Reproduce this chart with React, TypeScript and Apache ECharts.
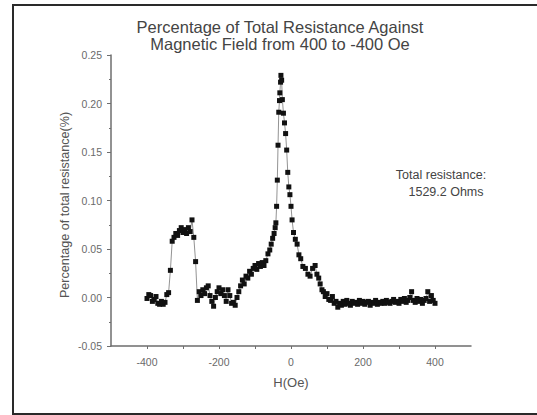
import React, { useEffect, useRef } from 'react';
import * as echarts from 'echarts';

// Magnetic field sweep (Oe) and percentage of total resistance (%)
const fieldOe: number[] = [
  -400, -395, -390, -385, -380, -375, -370, -365, -360, -355, -350, -345, -340,
  -335, -330, -325, -320, -315, -310, -305, -300, -295, -290, -285, -280, -275, -270, -265,
  -260, -255, -250, -245, -240, -235, -230, -225, -220, -215, -210, -205, -200, -195, -190, -185, -180, -175, -170, -165, -160, -155, -150,
  -145, -140, -135, -130, -125, -120, -115, -110, -105, -100, -95, -90, -85, -80, -75,
  -70, -64, -59, -55, -51, -47, -44, -42, -40, -38, -36, -34, -32, -31, -29, -28,
  -26, -24, -21, -18, -15, -12, -9, -6, -3, 0, 3, 7, 12, 17, 22, 27, 33, 40, 47, 53, 60, 67, 72, 77, 81, 86, 90, 95, 100, 105,
  110, 115, 120, 125, 130, 135, 140, 145, 150, 155,
  160, 165, 170, 175, 180, 185, 190, 195, 200, 205,
  210, 215, 220, 225, 230, 235, 240, 245, 250, 255,
  260, 265, 270, 275, 280, 285, 290, 295, 300, 305,
  310, 315, 320, 325, 330, 335, 340, 345, 350, 355,
  360, 365, 370, 375, 380, 385, 390, 395, 400,
];

const resistancePct: number[] = [
  -0.001, 0.003, 0.002, -0.004, -0.002, 0.001, -0.006, -0.007, -0.004, -0.007, -0.005, 0.003, 0.005,
  0.028, 0.058, 0.062, 0.066, 0.064, 0.069, 0.072, 0.067, 0.070, 0.066, 0.072, 0.068, 0.080, 0.062, 0.037,
  -0.003, 0.006, 0.002, 0.008, 0.004, 0.010, 0.012, 0.002, -0.004, -0.009, 0.000, 0.006, 0.010, 0.004, 0.008, 0.002, -0.004, 0.008, 0.002, -0.006, -0.005, -0.008, 0.000,
  0.006, 0.012, 0.018, 0.014, 0.022, 0.020, 0.027, 0.024, 0.030, 0.033, 0.029, 0.035, 0.032, 0.036, 0.033,
  0.038, 0.045, 0.049, 0.055, 0.061, 0.066, 0.072, 0.077, 0.094, 0.121, 0.157, 0.191, 0.203, 0.211, 0.222, 0.229,
  0.224, 0.204, 0.190, 0.180, 0.169, 0.152, 0.129, 0.114, 0.106, 0.094, 0.080, 0.067, 0.060, 0.055, 0.044, 0.040, 0.032, 0.030, 0.024, 0.022, 0.030, 0.033, 0.024, 0.020, 0.014, 0.008, 0.006, 0.001, 0.004, -0.002,
  -0.003, 0.001, -0.006, -0.004, -0.010, -0.006, -0.008, -0.004, -0.007, -0.003,
  -0.006, -0.008, -0.004, -0.006, -0.005, -0.007, -0.003, -0.006, -0.004, -0.007,
  -0.005, -0.004, -0.008, -0.005, -0.006, -0.003, -0.007, -0.005, -0.006, -0.004,
  -0.006, -0.003, -0.005, -0.006, -0.004, -0.002, -0.005, -0.004, -0.006, -0.002,
  -0.004, -0.001, -0.005, -0.003, 0.000, 0.006, -0.003, -0.005, -0.001, -0.004,
  -0.002, -0.006, -0.003, -0.001, 0.006, -0.004, 0.002, -0.003, -0.006,
];

const xLabelStep = 200; // labels shown at -400, -200, 0, 200, 400
const titleLines = ['Percentage of Total Resistance Against', 'Magnetic Field from 400 to -400 Oe'];
const noteLines = ['Total resistance:', '1529.2 Ohms'];
const xAxisTitle = 'H(Oe)';
const yAxisTitle = 'Percentage of total resistance(%)';

const FONT = 'Arial, "Liberation Sans", sans-serif';
const AXIS_GRAY = '#6e6e6e';
const LABEL_GRAY = '#6a6a6a';

export default function App() {
  const ref = useRef<HTMLDivElement>(null);

  useEffect(() => {
    if (!ref.current) return;
    const chart = echarts.init(ref.current, null, { renderer: 'svg' });
    const n = Math.min(fieldOe.length, resistancePct.length);
    const data: number[][] = [];
    for (let i = 0; i < n; i++) data.push([fieldOe[i], resistancePct[i]]);

    const centered = (text: string, size: number) => ({
      text,
      fill: '#444',
      font: `${size}px ${FONT}`,
      align: 'center',
      verticalAlign: 'middle',
      textAlign: 'center',
      textVerticalAlign: 'middle',
    });

    chart.setOption({
      animation: false,
      backgroundColor: '#ffffff',
      textStyle: { fontFamily: FONT },
      grid: { left: 111, right: 66, top: 55, bottom: 69 },
      xAxis: {
        type: 'value',
        min: -500,
        max: 500,
        interval: 100,
        axisLine: { show: true, onZero: false, lineStyle: { color: AXIS_GRAY, width: 1.5 } },
        axisTick: { show: true, length: 3, lineStyle: { color: AXIS_GRAY, width: 1 } },
        axisLabel: {
          show: true,
          margin: 10,
          fontSize: 10.5,
          color: LABEL_GRAY,
          fontFamily: FONT,
          showMinLabel: false,
          showMaxLabel: false,
          formatter: (v: number) => (Math.abs(v) <= 400 && v % xLabelStep === 0 ? String(v) : ''),
        },
        splitLine: { show: false },
      },
      yAxis: {
        type: 'value',
        min: -0.05,
        max: 0.25,
        interval: 0.05,
        axisLine: { show: true, onZero: false, lineStyle: { color: AXIS_GRAY, width: 1.5 } },
        axisTick: { show: true, length: 4, lineStyle: { color: AXIS_GRAY, width: 1 } },
        minorTick: { show: true, splitNumber: 2, length: 2, lineStyle: { color: AXIS_GRAY, width: 1 } },
        axisLabel: {
          margin: 9,
          fontSize: 10.5,
          color: LABEL_GRAY,
          fontFamily: FONT,
          formatter: (v: number) => v.toFixed(2),
        },
        splitLine: { show: false },
      },
      series: [
        {
          type: 'line',
          data,
          showSymbol: true,
          symbol: 'rect',
          symbolSize: 5,
          itemStyle: { color: '#111' },
          lineStyle: { color: '#777', width: 0.8 },
          emphasis: { disabled: true },
        },
      ],
      graphic: [
        {
          type: 'rect',
          shape: { x: 13, y: 5, width: 530, height: 409 },
          style: { fill: 'none', stroke: '#2a2a2a', lineWidth: 2 },
          silent: true,
        },
        ...titleLines.map((t, i) => ({
          type: 'text',
          x: 280,
          y: 27 + i * 17,
          style: centered(t, 16.5),
        })),
        ...noteLines.map((t, i) => ({
          type: 'text',
          x: i === 0 ? 441 : 446,
          y: 175 + i * 17,
          style: centered(t, 12.5),
        })),
        {
          type: 'text',
          x: 291,
          y: 382,
          style: { ...centered(xAxisTitle, 13), fill: '#555' },
        },
        {
          type: 'text',
          x: 65,
          y: 205,
          rotation: Math.PI / 2,
          style: { ...centered(yAxisTitle, 12.6), fill: '#555' },
        },
      ],
    });

    return () => chart.dispose();
  }, []);

  return (
    <div
      ref={ref}
      style={{ position: 'fixed', left: 0, top: 0, width: 537, height: 415, background: '#fff' }}
    />
  );
}
